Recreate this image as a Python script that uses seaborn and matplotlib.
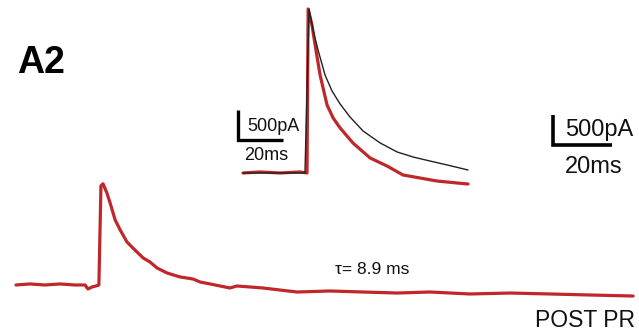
import seaborn as sns
import matplotlib.pyplot as plt

# main trace (POST PR), time in ms, current in pA
main_t = [0, 4.7, 9.8, 14.9, 20.0, 23.4, 24.4, 25.8, 27.1, 28.1, 28.8, 29.5,
          30.8, 31.9, 33.6, 35.3, 37.6, 39.6, 43.1, 45.4, 47.8, 51.2, 55.6,
          60.0, 62.4, 67.5, 72.5, 74.9, 79.3, 83.7, 89.5, 95.3, 106.4, 117.6,
          129.2, 140.3, 153.9, 167.5, 181.0, 194.6, 209.2]
main_i = [0, 17, 0, 17, 0, 0, -67, -33, -17, 0, 1653, 1687,
          1536, 1369, 1086, 919, 718, 618, 451, 384, 284, 200, 134,
          100, 50, 0, -50, -17, -33, -50, -84, -117, -100, -117,
          -134, -117, -150, -134, -150, -167, -184]

# inset: control (black) and post (red), normalised display
ctrl_t = [0, 7.5, 16.4, 25.3, 27.5, 29.3, 31.1, 33.3, 36.4, 39.5, 43.1, 47.5,
          53.3, 60.9, 68.4, 75.5, 83.0, 90.6, 99.9]
ctrl_i = [0, 0, 0, 0, 0, 2739, 2388, 2054, 1637, 1370, 1152, 935,
          701, 501, 351, 267, 200, 134, 50]
post_t = [0, 7.5, 16.4, 25.3, 28.4, 28.9, 30.6, 32.0, 34.2, 37.3, 40.0, 43.1,
          48.8, 56.4, 63.9, 71.0, 78.6, 86.1, 95.0, 99.9]
post_i = [0, 17, 0, 17, 0, 2739, 2472, 2138, 1637, 1136, 919, 752,
          501, 251, 117, -33, -84, -134, -167, -184]

bar_ms = 20
bar_pa = 500
red = "#c0272b"

sns.set_style("white")
plt.rcParams["font.family"] = ["Liberation Sans", "DejaVu Sans"]
plt.rcParams["text.color"] = "#111111"

fig = plt.figure(figsize=(6.39, 3.31), dpi=100)
ax = fig.add_axes([0, 0, 1, 1])
ax.set_xlim(-5.42, 211.2)
ax.set_ylim(-767, 4750)
ax.axis("off")

sns.lineplot(x=main_t, y=main_i, ax=ax, color=red, linewidth=2.3,
             sort=False, estimator=None)

# main scale bar
sx, sy = 182.0, 2338
ax.plot([sx, sx, sx + bar_ms], [sy + bar_pa, sy, sy], color="black",
        linewidth=2.6, solid_capstyle="butt", solid_joinstyle="miter")
ax.text(sx + 4.1, sy + 250, "500pA", fontsize=17, va="center", ha="left")
ax.text(sx + 14, sy - 367, "20ms", fontsize=17, va="center", ha="center")

ax.text(108.1, 250, "\u03c4= 8.9 ms", fontsize=12.5, va="center", ha="left")
ax.text(209.8, -585, "POST PR", fontsize=16.5, va="center", ha="right")

fig.text(0.027, 0.81, "A2", fontsize=27, fontweight="bold", va="center",
         ha="left", color="black")

# inset
ax2 = fig.add_axes([0, 0, 1, 1])
ax2.set_facecolor("none")
ax2.set_xlim(-107.9, 175.8)
ax2.set_ylim(-2639, 2889)
ax2.axis("off")

sns.lineplot(x=post_t, y=post_i, ax=ax2, color=red, linewidth=2.3,
             sort=False, estimator=None)
sns.lineplot(x=ctrl_t, y=ctrl_i, ax=ax2, color="#222222", linewidth=1.0,
             sort=False, estimator=None)

ix, iy = -2.2, 551
ax2.plot([ix, ix, ix + bar_ms], [iy + bar_pa, iy, iy], color="black",
         linewidth=2.4, solid_capstyle="butt", solid_joinstyle="miter")
ax2.text(ix + 4.0, iy + 217, "500pA", fontsize=13, va="center", ha="left")
ax2.text(ix + 12.4, iy - 251, "20ms", fontsize=13, va="center", ha="center")

fig.savefig("out.png", dpi=100)
